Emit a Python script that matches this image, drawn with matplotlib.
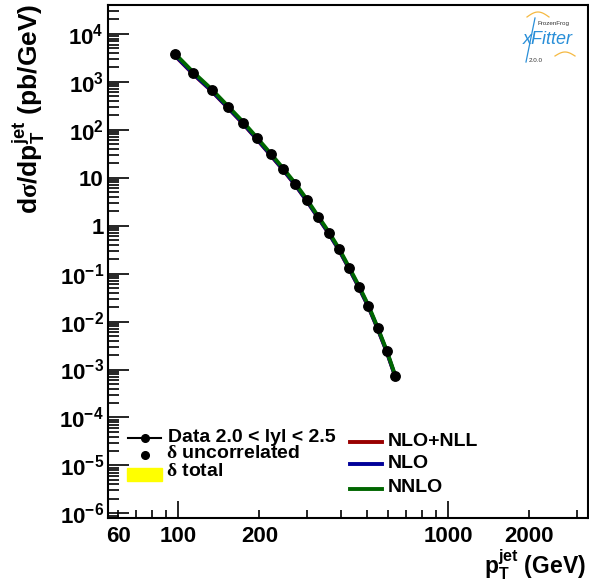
import numpy as np
import matplotlib
matplotlib.use('Agg')
import matplotlib.pyplot as plt
from matplotlib.ticker import FixedLocator, FuncFormatter, NullFormatter
from matplotlib.lines import Line2D
from matplotlib.patches import Rectangle

plt.rcParams['font.family'] = ['Liberation Sans', 'DejaVu Sans']
plt.rcParams['font.weight'] = 'bold'
plt.rcParams['mathtext.fontset'] = 'custom'
plt.rcParams['mathtext.rm'] = 'Liberation Serif'
plt.rcParams['mathtext.bf'] = 'Liberation Sans:bold'
plt.rcParams['mathtext.it'] = 'Liberation Sans:bold'
plt.rcParams['mathtext.sf'] = 'Liberation Sans:bold'

# jet pT bins (GeV) and measured cross sections (pb/GeV)
pt = [97, 114, 133, 153, 174, 196, 220, 245, 272, 300, 330, 362, 395,
      430, 468, 507, 548, 592, 638]
data = [3800, 1510, 680, 300, 141, 66, 31, 15.2, 7.3, 3.4, 1.53, 0.71,
        0.32, 0.132, 0.053, 0.021, 0.0074, 0.00245, 0.00072]
# total uncertainty (relative)
err_tot = [0.05, 0.05, 0.05, 0.05, 0.05, 0.05, 0.05, 0.05, 0.06, 0.06,
           0.06, 0.07, 0.07, 0.08, 0.09, 0.10, 0.11, 0.13, 0.15]

# theory predictions
nlo_nll = [3580, 1430, 645, 286, 134, 63, 29.6, 14.5, 7.0, 3.25, 1.47,
           0.68, 0.307, 0.127, 0.051, 0.0203, 0.0072, 0.00238, 0.00070]
nlo = [3660, 1460, 658, 291, 137, 64, 30.2, 14.8, 7.1, 3.3, 1.49,
       0.69, 0.311, 0.129, 0.0517, 0.0206, 0.0073, 0.00241, 0.00071]
nnlo = [3950, 1570, 705, 311, 146, 68.5, 32.1, 15.7, 7.55, 3.52, 1.58,
        0.733, 0.33, 0.136, 0.0547, 0.0217, 0.00765, 0.00253, 0.00074]

W, H = 589, 581
fig = plt.figure(figsize=(W / 100, H / 100), dpi=100)
ax = fig.add_axes([108 / W, 1 - 518 / H, 480 / W, 513 / H])

lo = np.array(data) * (1 - np.array(err_tot))
hi = np.array(data) * (1 + np.array(err_tot))
ax.fill_between(pt, lo, hi, color='yellow', lw=0, zorder=1)

ax.plot(pt, nlo_nll, color='#990000', lw=2.8, zorder=2)
ax.plot(pt, nlo, color='#000099', lw=2.8, zorder=3)
ax.plot(pt, nnlo, color='#006600', lw=2.8, zorder=4)
ax.plot(pt, data, 'o', color='black', ms=6.8, zorder=5)

ax.set_xscale('log')
ax.set_yscale('log')
ax.set_xlim(55, 3300)
ax.set_ylim(8e-7, 4e4)

# x ticks: majors at decades, labelled minors at 60, 200, 2000
ax.xaxis.set_major_locator(FixedLocator([100, 1000]))
ax.xaxis.set_major_formatter(FuncFormatter(lambda v, p: f'{v:g}'))
xminor = [60, 70, 80, 90] + list(range(200, 1000, 100)) + [2000, 3000]
ax.xaxis.set_minor_locator(FixedLocator(xminor))
ax.xaxis.set_minor_formatter(
    FuncFormatter(lambda v, p: f'{v:g}' if v in (60, 200, 2000) else ''))

ydec = [10.0 ** k for k in range(-6, 5)]
ax.yaxis.set_major_locator(FixedLocator(ydec))


def ylab(v, p):
    k = int(round(np.log10(v)))
    if k == 0:
        return '1'
    if k == 1:
        return '10'
    return r'$\mathbf{10^{%s}}$' % (str(k).replace('-', '\u2212'))


ax.yaxis.set_major_formatter(FuncFormatter(ylab))
yminor = [m * 10.0 ** k for k in range(-7, 5) for m in range(2, 10)]
ax.yaxis.set_minor_locator(FixedLocator(yminor))
ax.yaxis.set_minor_formatter(NullFormatter())

ax.tick_params(which='both', direction='in', top=False, right=False,
               width=1.2, labelsize=16)
ax.tick_params(axis='x', which='both', pad=6)
ax.tick_params(axis='x', which='major', length=12)
ax.tick_params(axis='x', which='minor', length=6, labelsize=16)
ax.tick_params(axis='y', which='major', length=15, pad=3)
ax.tick_params(axis='y', which='minor', length=8)
for s in ax.spines.values():
    s.set_linewidth(1.5)

fig.text(586 / W, 1 - 565 / H, r'p$_{\mathbf{T}}^{\mathbf{jet}}$ (GeV)',
         ha='right', va='center', fontsize=16.5, fontweight='bold')
fig.text(29 / W, 1 - 4 / H,
         r'd$\mathrm{\sigma}$/dp$_{\mathbf{T}}^{\mathbf{jet}}$ (pb/GeV)',
         rotation=90, ha='center', va='top', fontsize=19,
         fontweight='bold')

# legends drawn in figure pixel coordinates
tf = fig.transFigure


def fx(x):
    return x / W


def fy(y):
    return 1 - y / H


fig.add_artist(Line2D([fx(128), fx(161)], [fy(438), fy(438)], color='black',
                      lw=1.5, transform=tf))
fig.add_artist(Line2D([fx(145)], [fy(438)], marker='o', color='black', ms=5.5,
                      transform=tf))
fig.text(fx(168), fy(437), 'Data 2.0 < lyl < 2.5', fontsize=14,
         va='center', fontweight='bold')
fig.add_artist(Line2D([fx(145)], [fy(455)], marker='o', color='black', ms=5.5,
                      transform=tf))
fig.text(fx(166), fy(454), r'$\mathrm{\delta}$ uncorrelated', fontsize=14,
         va='center', fontweight='bold')
fig.add_artist(Rectangle((fx(127), fy(481)), fx(35), 13 / H,
                         color='yellow', transform=tf))
fig.text(fx(166), fy(471), r'$\mathrm{\delta}$ total', fontsize=14,
         va='center', fontweight='bold')

for lab, col, yy in [('NLO+NLL', '#990000', 442), ('NLO', '#000099', 464),
                     ('NNLO', '#006600', 489)]:
    fig.add_artist(Line2D([fx(350), fx(382)], [fy(yy), fy(yy)], color=col,
                          lw=2.8, transform=tf))
    fig.text(fx(388), fy(yy - 1), lab, fontsize=14, va='center',
             fontweight='bold')

# xFitter logo
t = np.linspace(0, 1, 30)
fig.add_artist(Line2D(fx(527 + 22 * t), fy(17 - 5 * np.sin(np.pi * t)),
                      color='#f5b942', lw=0.9, transform=tf))
fig.add_artist(Line2D(fx(555 + 20 * t), fy(56 - 4 * np.sin(np.pi * t)),
                      color='#f5b942', lw=0.9, transform=tf))
fig.add_artist(Line2D(fx(535 - 9 * t), fy(18 + 44 * t), color='#2a8fd8',
                      lw=0.9, transform=tf))
fig.text(fx(554), fy(23), 'FrozenFrog', fontsize=4.5, ha='center',
         va='center', fontweight='normal', color='#333333')
fig.text(fx(548), fy(40), 'xFitter', fontsize=13, ha='center', va='center',
         fontstyle='italic', fontweight='normal', color='#2a8fd8')
fig.text(fx(536), fy(60), '2.0.0', fontsize=4.5, ha='center', va='center',
         fontweight='normal', color='#333333')

fig.savefig('out.png', dpi=100)
